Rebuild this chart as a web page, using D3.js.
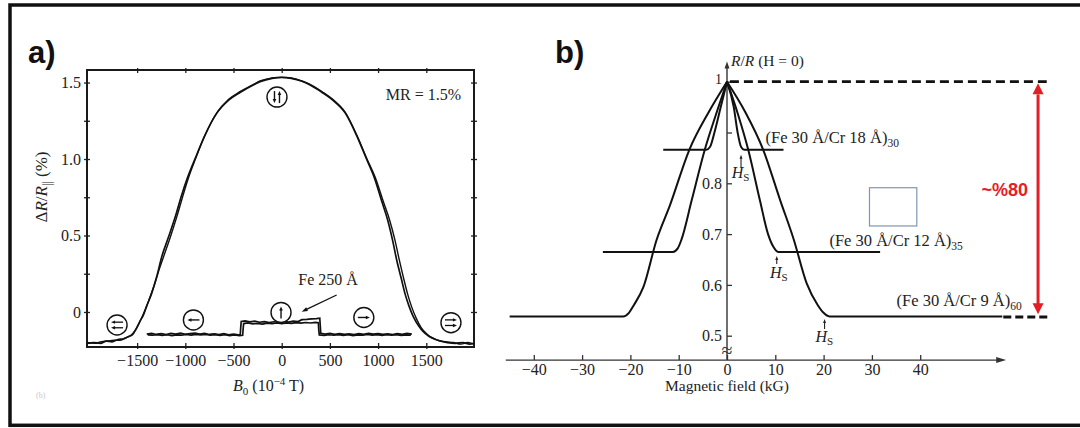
<!DOCTYPE html>
<html><head><meta charset="utf-8">
<script src="https://cdn.jsdelivr.net/npm/d3@7"></script>
<style>
html,body{margin:0;padding:0;background:#fff;}
svg{display:block;}
text{font-family:"Liberation Serif","Times New Roman",serif;fill:#222;}
</style></head><body>
<svg id="chart" width="1080" height="428"></svg>
<script>
// ================= Panel a data =================
const aXTicks = [-1500,-1000,-500,0,500,1000,1500];
const aYTicks = [0,0.25,0.5,0.75,1.0,1.25,1.5];
const aYLabels = {"0":"0","0.5":"0.5","1":"1.0","1.5":"1.5"};

const domeField1 = [-2020,-1950,-1880,-1820,-1760,-1700,-1640,-1590,-1550,-1510,-1470,-1435,-1400,-1350,-1297,-1245,-1180,-1100,-1040,-976,-900,-800,-674,-550,-433,-300,-225,-100,0,100,210,290,420,530,660,780,880,960,1040,1100,1150,1193,1240,1279,1320,1365,1420,1469,1520,1580,1642,1720,1800,1880,1950,1995];
const domeMR1 = [-0.205,-0.2,-0.205,-0.19,-0.195,-0.18,-0.175,-0.16,-0.15,-0.11,-0.06,-0.02,0.04,0.12,0.23,0.36,0.48,0.63,0.76,0.88,1.0,1.15,1.30,1.385,1.435,1.483,1.505,1.527,1.533,1.527,1.508,1.485,1.435,1.385,1.30,1.15,1.0,0.88,0.72,0.6,0.47,0.34,0.22,0.12,0.04,-0.03,-0.09,-0.129,-0.155,-0.175,-0.19,-0.2,-0.205,-0.2,-0.21,-0.205];

const domeField2 = [-2020,-1940,-1870,-1800,-1740,-1680,-1620,-1570,-1520,-1480,-1440,-1400,-1365,-1320,-1270,-1215,-1150,-1080,-1020,-960,-895,-800,-674,-550,-433,-300,-225,-100,0,100,210,290,420,530,660,780,885,970,1055,1120,1175,1220,1265,1305,1350,1395,1445,1500,1560,1620,1700,1780,1860,1930,1995];
const domeMR2 = [-0.2,-0.205,-0.195,-0.19,-0.185,-0.185,-0.17,-0.155,-0.12,-0.075,-0.02,0.04,0.1,0.18,0.28,0.38,0.5,0.64,0.77,0.89,1.0,1.15,1.30,1.39,1.44,1.485,1.51,1.53,1.535,1.53,1.51,1.49,1.44,1.39,1.305,1.155,1.0,0.88,0.72,0.6,0.47,0.34,0.22,0.12,0.03,-0.04,-0.1,-0.14,-0.17,-0.185,-0.195,-0.2,-0.21,-0.2,-0.21];

const filmField1 = [-1400,-1350,-1300,-1250,-1200,-1150,-1100,-1050,-1000,-950,-900,-850,-800,-750,-700,-650,-600,-550,-500,-450,-430,-425,-420,-380,-330,-280,-230,-180,-130,-80,-30,20,70,120,170,210,260,310,360,395,400,405,450,500,550,600,650,700,750,800,850,900,950,1000,1050,1100,1150,1200,1250,1300,1350];
const filmMR1 = [-0.145,-0.14,-0.147,-0.142,-0.148,-0.14,-0.145,-0.139,-0.146,-0.141,-0.138,-0.144,-0.14,-0.147,-0.143,-0.148,-0.142,-0.149,-0.145,-0.15,-0.148,-0.1,-0.062,-0.058,-0.065,-0.06,-0.067,-0.063,-0.07,-0.064,-0.068,-0.062,-0.066,-0.06,-0.063,-0.05,-0.048,-0.045,-0.043,-0.04,-0.09,-0.14,-0.145,-0.14,-0.146,-0.141,-0.147,-0.143,-0.148,-0.142,-0.146,-0.14,-0.145,-0.141,-0.147,-0.143,-0.148,-0.142,-0.146,-0.14,-0.145];

const filmField2 = [-1390,-1340,-1290,-1240,-1190,-1140,-1090,-1040,-990,-940,-890,-840,-790,-740,-690,-640,-590,-540,-490,-440,-405,-400,-395,-350,-300,-250,-200,-150,-100,-50,0,50,100,150,200,250,300,350,380,385,390,440,490,540,590,640,690,740,790,840,890,940,990,1040,1090,1140,1190,1240,1290,1340];
const filmMR2 = [-0.15,-0.152,-0.148,-0.153,-0.149,-0.154,-0.15,-0.152,-0.147,-0.151,-0.146,-0.15,-0.147,-0.152,-0.148,-0.153,-0.149,-0.154,-0.15,-0.155,-0.152,-0.11,-0.076,-0.072,-0.078,-0.074,-0.079,-0.073,-0.077,-0.072,-0.076,-0.071,-0.075,-0.07,-0.073,-0.069,-0.072,-0.068,-0.07,-0.12,-0.15,-0.153,-0.149,-0.152,-0.148,-0.153,-0.149,-0.154,-0.15,-0.152,-0.147,-0.151,-0.148,-0.153,-0.149,-0.152,-0.148,-0.153,-0.15,-0.151];

// state icons: [field, value, type]
const aIconField = [-49,-1708,-916,-7,852,1756];
const aIconMR = [1.405,-0.085,-0.052,-0.003,-0.036,-0.07];
const aIconType = ["antipar","bothLeft","left","up","right","bothRight"];

// ================= Panel b data =================
const bXTicks = [-40,-30,-20,-10,0,10,20,30,40];
const bYTicks = [0.5,0.6,0.7,0.8,0.9,1.0];
const bYLabels = ["0.5","0.6","0.7","0.8","","1"];

const cr18Field = [-13.2,-4.3,-3.5,-2.6,-1.3,0,1.4,2.2,2.9,3.6,11.7];
const cr18R     = [0.866,0.866,0.872,0.9,0.95,1.0,0.95,0.9,0.872,0.866,0.866];
const cr12Field = [-25.7,-11.2,-10.2,-9.4,-7.3,-4.6,-2.3,0,2.3,4.4,6.8,8.5,9.6,10.6,31.7];
const cr12R     = [0.665,0.665,0.672,0.69,0.767,0.866,0.935,1.0,0.935,0.866,0.767,0.70,0.675,0.665,0.665];
const cr9Field  = [-45,-21.5,-20.3,-19.3,-17.3,-14.6,-11.8,-7.8,-3.8,0,3.8,7.5,11,13.8,16.5,18.8,20,21.2,57];
const cr9R      = [0.538,0.538,0.545,0.56,0.596,0.688,0.757,0.866,0.94,1.0,0.94,0.866,0.767,0.69,0.603,0.56,0.545,0.538,0.538];

// ================= Drawing =================
const svg = d3.select("#chart");
svg.append("rect").attr("x",10).attr("y",5).attr("width",1090).attr("height",420.3)
  .attr("fill","none").attr("stroke","#111").attr("stroke-width",3.5);

const minus = d => (d < 0 ? "\u2212" + Math.abs(d) : String(d));

function arrowHead(g, x1, y1, x2, y2, len, wid, color) {
  const ang = Math.atan2(y2 - y1, x2 - x1);
  const bx = x2 - len * Math.cos(ang), by = y2 - len * Math.sin(ang);
  const px = -Math.sin(ang) * wid / 2, py = Math.cos(ang) * wid / 2;
  g.append("path").attr("d", `M${x2},${y2}L${bx+px},${by+py}L${bx-px},${by-py}Z`).attr("fill", color);
}
function arrow(g, x1, y1, x2, y2, sw, len, wid, color) {
  const ang = Math.atan2(y2 - y1, x2 - x1);
  g.append("line").attr("x1",x1).attr("y1",y1)
    .attr("x2",x2 - (len*0.7)*Math.cos(ang)).attr("y2",y2 - (len*0.7)*Math.sin(ang))
    .attr("stroke",color).attr("stroke-width",sw);
  arrowHead(g, x1, y1, x2, y2, len, wid, color);
}

// ---------- Panel a ----------
const xA = d3.scaleLinear().domain([-2020,1995]).range([87,474]);
const yA = d3.scaleLinear().domain([-0.229,1.582]).range([347,70]);
const gA = svg.append("g");

svg.append("text").attr("x",28).attr("y",63)
  .style("font-family","'Liberation Sans',Arial,sans-serif").style("font-weight","bold")
  .style("font-size","31px").style("fill","#111").text("a)");

// bottom axis
const axB = gA.append("g").attr("transform",`translate(0,${yA.range()[0]})`)
  .call(d3.axisBottom(xA).tickValues(aXTicks).tickFormat(minus).tickSizeInner(-4).tickSizeOuter(0));
axB.select(".domain").remove();
axB.selectAll(".tick line").attr("y1",2).attr("y2",-4).attr("stroke","#222").attr("stroke-width",1.3);
axB.selectAll(".tick text").attr("dy",null).attr("y",18.5).style("font-size","16px")
  .style("font-family","'Liberation Serif',serif").attr("fill","#222");
// top axis ticks
const axT = gA.append("g").attr("transform",`translate(0,${yA.range()[1]})`)
  .call(d3.axisTop(xA).tickValues(aXTicks).tickFormat("").tickSizeInner(-3).tickSizeOuter(0));
axT.select(".domain").remove();
axT.selectAll(".tick line").attr("y1",-2).attr("y2",3).attr("stroke","#222").attr("stroke-width",1.3);
// left axis
const axL = gA.append("g").attr("transform",`translate(${xA.range()[0]},0)`)
  .call(d3.axisLeft(yA).tickValues(aYTicks).tickFormat(d => aYLabels[String(d)] || "").tickSizeInner(-3).tickSizeOuter(0));
axL.select(".domain").remove();
axL.selectAll(".tick line").attr("x1",-3).attr("x2",3).attr("stroke","#222").attr("stroke-width",1.3);
axL.selectAll(".tick text").attr("x",-6).style("font-size","16px")
  .style("font-family","'Liberation Serif',serif").attr("fill","#222");
// right axis
const axR = gA.append("g").attr("transform",`translate(${xA.range()[1]},0)`)
  .call(d3.axisRight(yA).tickValues(aYTicks).tickFormat("").tickSizeInner(-3).tickSizeOuter(0));
axR.select(".domain").remove();
axR.selectAll(".tick line").attr("x1",-3).attr("x2",3).attr("stroke","#222").attr("stroke-width",1.3);

// frame
gA.append("rect").attr("x",xA.range()[0]).attr("y",yA.range()[1])
  .attr("width",xA.range()[1]-xA.range()[0]).attr("height",yA.range()[0]-yA.range()[1])
  .attr("fill","none").attr("stroke","#1a1a1a").attr("stroke-width",2);

const lineDome = d3.line().x(d=>xA(d[0])).y(d=>yA(d[1])).curve(d3.curveMonotoneX);
const lineFilm = d3.line().x(d=>xA(d[0])).y(d=>yA(d[1]));
const zip = (a,b) => a.map((v,i)=>[v,b[i]]);

gA.append("path").attr("d",lineDome(zip(domeField1,domeMR1))).attr("fill","none").attr("stroke","#111").attr("stroke-width",1.7);
gA.append("path").attr("d",lineDome(zip(domeField2,domeMR2))).attr("fill","none").attr("stroke","#111").attr("stroke-width",1.4);
gA.append("path").attr("d",lineFilm(zip(filmField1,filmMR1))).attr("fill","none").attr("stroke","#111").attr("stroke-width",1.7);
gA.append("path").attr("d",lineFilm(zip(filmField2,filmMR2))).attr("fill","none").attr("stroke","#111").attr("stroke-width",1.7);

// state icons
aIconField.forEach((f,i)=>{
  const cx = xA(f), cy = yA(aIconMR[i]), t = aIconType[i];
  const g = gA.append("g");
  g.append("circle").attr("cx",cx).attr("cy",cy).attr("r",10).attr("fill","#fff").attr("stroke","#111").attr("stroke-width",1.4);
  const c = "#111";
  if (t==="antipar"){ arrow(g,cx-2.5,cy-6,cx-2.5,cy+6,1.4,4,3.6,c); arrow(g,cx+2.5,cy+6,cx+2.5,cy-6,1.4,4,3.6,c); }
  if (t==="up"){ arrow(g,cx,cy+6,cx,cy-6,1.4,4,3.6,c); }
  if (t==="left"){ arrow(g,cx+6,cy,cx-6,cy,1.4,4,3.6,c); }
  if (t==="right"){ arrow(g,cx-6,cy,cx+6,cy,1.4,4,3.6,c); }
  if (t==="bothLeft"){ arrow(g,cx+6,cy-2.8,cx-6,cy-2.8,1.3,4,3.4,c); arrow(g,cx+6,cy+2.8,cx-6,cy+2.8,1.3,4,3.4,c); }
  if (t==="bothRight"){ arrow(g,cx-6,cy-2.8,cx+6,cy-2.8,1.3,4,3.4,c); arrow(g,cx-6,cy+2.8,cx+6,cy+2.8,1.3,4,3.4,c); }
});

// texts panel a
gA.append("text").attr("x",xA(1860)).attr("y",yA(1.386)).attr("text-anchor","end").style("font-size","16px").text("MR = 1.5%");
gA.append("text").attr("x",xA(172)).attr("y",yA(0.176)).style("font-size","16px").text("Fe 250 \u00C5");
arrow(gA, xA(570), yA(0.111), xA(207), yA(0.002), 1.3, 6, 4, "#111");

const yl = gA.append("text").attr("transform","translate(47,187) rotate(-90)").attr("text-anchor","middle").style("font-size","17px");
yl.append("tspan").text("\u0394");
yl.append("tspan").style("font-style","italic").text("R");
yl.append("tspan").text("/");
yl.append("tspan").style("font-style","italic").text("R");
yl.append("tspan").attr("dy",4).style("font-size","12px").text("||");
yl.append("tspan").attr("dy",-4).text(" (%)");

const xl = gA.append("text").attr("x",268.6).attr("y",390.7).attr("text-anchor","middle").style("font-size","16px");
xl.append("tspan").style("font-style","italic").text("B");
xl.append("tspan").attr("dy",4).style("font-size","11px").text("0");
xl.append("tspan").attr("dy",-4).text(" (10");
xl.append("tspan").attr("dy",-6).style("font-size","11px").text("\u22124");
xl.append("tspan").attr("dy",6).text(" T)");

gA.append("text").attr("x",36).attr("y",398).style("font-size","8px").style("fill","#c8c8c8").text("(b)");

// ---------- Panel b ----------
const xB = d3.scaleLinear().domain([0,10]).range([727,775.3]);
const yB = d3.scaleLinear().domain([1,0.5]).range([81.7,335.7]);
const gB = svg.append("g");

svg.append("text").attr("x",555).attr("y",63)
  .style("font-family","'Liberation Sans',Arial,sans-serif").style("font-weight","bold")
  .style("font-size","31px").style("fill","#111").text("b)");

// x axis line with arrow
const xAxisY = yB(0.452);
gB.append("line").attr("x1",xB(-45.8)).attr("x2",xB(56.5)).attr("y1",xAxisY).attr("y2",xAxisY).attr("stroke","#333").attr("stroke-width",1.4);
arrowHead(gB, xB(50), xAxisY, xB(57.8), xAxisY, 10, 6, "#333");
const bxAx = gB.append("g").attr("transform",`translate(0,${xAxisY})`)
  .call(d3.axisBottom(xB).tickValues(bXTicks).tickFormat(minus).tickSizeInner(-5).tickSizeOuter(0));
bxAx.select(".domain").remove();
bxAx.selectAll(".tick line").attr("stroke","#333").attr("stroke-width",1.3);
bxAx.selectAll(".tick text").attr("dy",null).attr("y",15).style("font-size","16px")
  .style("font-family","'Liberation Serif',serif").attr("fill","#222");

// y axis line with arrow
gB.append("line").attr("x1",xB(0)).attr("x2",xB(0)).attr("y1",xAxisY).attr("y2",yB(1.033)).attr("stroke","#333").attr("stroke-width",1.4);
arrowHead(gB, xB(0), yB(1.0), xB(0), yB(1.04), 7, 5, "#333");
const byAx = gB.append("g").attr("transform",`translate(${xB(0)},0)`)
  .call(d3.axisLeft(yB).tickValues(bYTicks).tickFormat((d,i)=>bYLabels[i]).tickSizeInner(-5).tickSizeOuter(0));
byAx.select(".domain").remove();
byAx.selectAll(".tick line").attr("stroke","#333").attr("stroke-width",1.3);
byAx.selectAll(".tick text").attr("x",-5).style("font-size","16px")
  .style("font-family","'Liberation Serif',serif").attr("fill","#222");
byAx.selectAll(".tick").filter(d=>d===1.0).select("text").attr("dy",null).attr("y",2).style("font-size","14px");
// axis break
gB.append("text").attr("x",xB(0)).attr("y",yB(0.459)).attr("text-anchor","middle").style("font-size","20px").style("fill","#333").text("\u2248");

// curves
const lineB = d3.line().x(d=>xB(d[0])).y(d=>yB(d[1])).curve(d3.curveMonotoneX);
[[cr18Field,cr18R],[cr12Field,cr12R],[cr9Field,cr9R]].forEach(([f,r])=>{
  const pts = zip(f,r);
  const left = pts.filter(p=>p[0]<=0), right = pts.filter(p=>p[0]>=0);
  gB.append("path").attr("d",lineB(left)).attr("fill","none").attr("stroke","#111").attr("stroke-width",2);
  gB.append("path").attr("d",lineB(right)).attr("fill","none").attr("stroke","#111").attr("stroke-width",2);
});

// top dashed reference
gB.append("line").attr("x1",xB(0.6)).attr("x2",xB(66.2)).attr("y1",yB(1)).attr("y2",yB(1))
  .attr("stroke","#111").attr("stroke-width",2.7).attr("stroke-dasharray","9,5");
gB.append("line").attr("x1",xB(57.2)).attr("x2",xB(66.9)).attr("y1",yB(0.537)).attr("y2",yB(0.537))
  .attr("stroke","#111").attr("stroke-width",3).attr("stroke-dasharray","8,4");

// red double arrow
const red = "#e31e24";
const rx = xB(64.4);
gB.append("line").attr("x1",rx).attr("x2",rx).attr("y1",yB(0.975)).attr("y2",yB(0.56)).attr("stroke",red).attr("stroke-width",3);
arrowHead(gB, rx, yB(0.9), rx, yB(0.997), 11, 11, red);
arrowHead(gB, rx, yB(0.6), rx, yB(0.542), 11, 11, red);
gB.append("text").attr("x",xB(52.7)).attr("y",yB(0.775))
  .style("font-family","'Liberation Sans',Arial,sans-serif").style("font-weight","bold")
  .style("font-size","18px").style("fill",red).text("~%80");

// empty box
gB.append("rect").attr("x",xB(29.5)).attr("y",yB(0.7913)).attr("width",xB(39.3)-xB(29.5)).attr("height",yB(0.716)-yB(0.7913))
  .attr("fill","#fff").attr("stroke","#7f95b1").attr("stroke-width",1.2);

// labels
function sampleLabel(k, v, main, sub){
  const t = gB.append("text").attr("x",xB(k)).attr("y",yB(v)).style("font-size","16.5px");
  t.append("tspan").text(main);
  t.append("tspan").attr("dy",4).style("font-size","11.5px").text(sub);
}
sampleLabel(7.97,0.879,"(Fe 30 \u00C5/Cr 18 \u00C5)","30");
sampleLabel(21.2,0.677,"(Fe 30 \u00C5/Cr 12 \u00C5)","35");
sampleLabel(35.1,0.559,"(Fe 30 \u00C5/Cr 9 \u00C5)","60");

const hsK = [0.97,8.9,18.3], hsV = [0.810,0.614,0.488];
const hsArrowK = [2.9,10.3,20.2], hsArrowTip = [0.856,0.657,0.533], hsArrowTail = [0.832,0.641,0.513];
hsK.forEach((k,i)=>{
  const t = gB.append("text").attr("x",xB(k)).attr("y",yB(hsV[i])).style("font-size","16px");
  t.append("tspan").style("font-style","italic").text("H");
  t.append("tspan").attr("dy",3).style("font-size","11px").text("S");
  arrow(gB, xB(hsArrowK[i]), yB(hsArrowTail[i]), xB(hsArrowK[i]), yB(hsArrowTip[i]), 1.1, 4, 3, "#222");
});

const rl = gB.append("text").attr("x",xB(0.83)).attr("y",yB(1.031)).style("font-size","15.5px");
rl.append("tspan").style("font-style","italic").text("R");
rl.append("tspan").text("/");
rl.append("tspan").style("font-style","italic").text("R");
rl.append("tspan").text(" (H = 0)");

gB.append("text").attr("x",xB(0)).attr("y",390.7).attr("text-anchor","middle").style("font-size","15.5px").text("Magnetic field (kG)");
</script>
</body></html>
